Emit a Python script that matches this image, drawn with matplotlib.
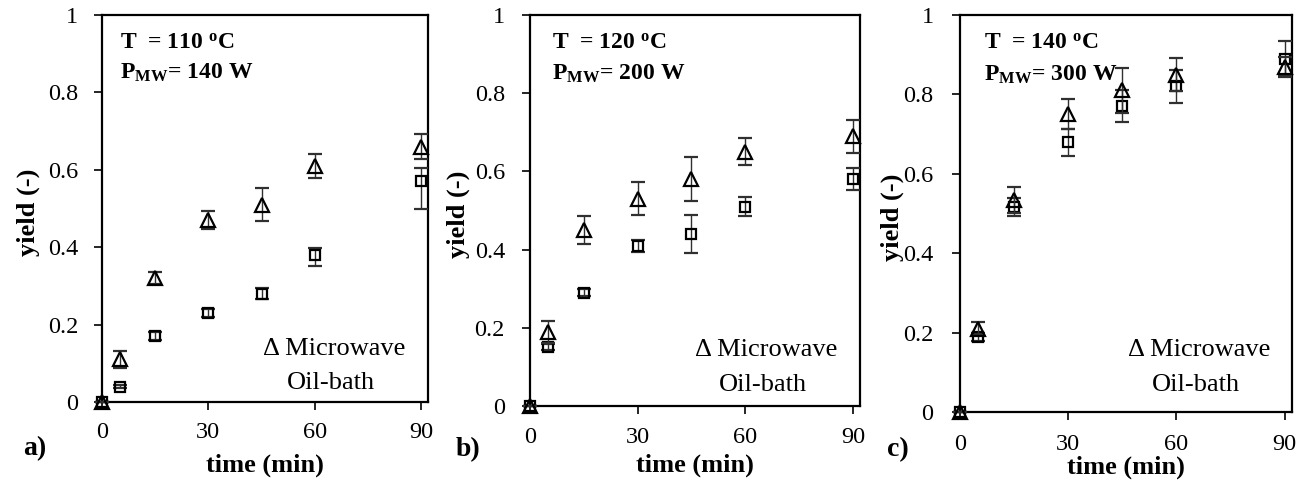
import matplotlib
matplotlib.use('Agg')
import matplotlib.pyplot as plt
from matplotlib.ticker import FixedLocator, FuncFormatter

plt.rcParams['font.family'] = ['Liberation Serif', 'DejaVu Serif']
plt.rcParams['mathtext.fontset'] = 'custom'
plt.rcParams['mathtext.rm'] = 'Liberation Serif'
plt.rcParams['mathtext.bf'] = 'Liberation Serif:bold'
plt.rcParams['mathtext.it'] = 'Liberation Serif:italic'

# ---------------- data ----------------
time = [0, 5, 15, 30, 45, 60, 90]

mw_a = [0, 0.11, 0.32, 0.47, 0.51, 0.61, 0.66]
mw_a_err = [0, 0.022, 0.015, 0.023, 0.043, 0.030, 0.033]
ob_a = [0, 0.04, 0.17, 0.23, 0.28, 0.38, 0.57]
ob_a_lo = [0, 0.005, 0.010, 0.010, 0.015, 0.028, 0.072]
ob_a_hi = [0, 0.005, 0.010, 0.010, 0.015, 0.018, 0.034]

mw_b = [0, 0.19, 0.45, 0.53, 0.58, 0.65, 0.69]
mw_b_err = [0, 0.028, 0.035, 0.042, 0.057, 0.035, 0.042]
ob_b = [0, 0.15, 0.29, 0.41, 0.44, 0.51, 0.58]
ob_b_err = [0, 0.008, 0.008, 0.015, 0.048, 0.025, 0.028]

mw_c = [0, 0.21, 0.534, 0.75, 0.81, 0.85, 0.87]
mw_c_err = [0, 0.017, 0.033, 0.038, 0.056, 0.042, 0.024]
ob_c = [0, 0.19, 0.517, 0.68, 0.77, 0.82, 0.89]
ob_c_err = [0, 0.010, 0.023, 0.034, 0.040, 0.042, 0.045]

temps = ['110', '120', '140']
powers = ['140', '200', '300']
panel_letters = ['a)', 'b)', 'c)']
x_ticks = [0, 30, 60, 90]
y_ticks = [0, 0.2, 0.4, 0.6, 0.8, 1.0]

# ---------------- layout ----------------
fig = plt.figure(figsize=(13.05, 4.84), dpi=100)
positions = [[0.0782, 0.1694, 0.2498, 0.7996],
             [0.4061, 0.1612, 0.2529, 0.8079],
             [0.7356, 0.1488, 0.2544, 0.8202]]
xlabel_y = [-0.163, -0.151, -0.139]
ylabel_x = [-0.227, -0.218, -0.205]
ann_x = [0.055, 0.067, 0.072]
leg1 = [(0.494, 0.137), (0.500, 0.143), (0.506, 0.156)]
leg2 = [(0.567, 0.049), (0.573, 0.054), (0.578, 0.068)]
letter_pos = [(35, 449), (468, 450), (898, 450)]
xpad = [8.5, 9.0, 10.0]
ypad = [11, 12, 13]

mw_series = [(mw_a, mw_a_err), (mw_b, mw_b_err), (mw_c, mw_c_err)]
ob_series = [(ob_a, [ob_a_lo, ob_a_hi]), (ob_b, ob_b_err), (ob_c, ob_c_err)]

W, H = 1305, 484

def fmt(v, _):
    if abs(v) < 1e-9:
        return '0'
    if abs(v - 1) < 1e-9:
        return '1'
    return f'{v:.1f}'

for i in range(3):
    ax = fig.add_axes(positions[i])
    ob, oberr = ob_series[i]
    mw, mwerr = mw_series[i]
    c1 = ax.errorbar(time, ob, yerr=oberr, fmt='s', ms=7.8, mfc='none', mec='black',
                     mew=1.6, ecolor='#303030', elinewidth=1.0, capsize=4.8,
                     capthick=1.0, zorder=3)
    c2 = ax.errorbar(time, mw, yerr=mwerr, fmt='^', ms=9.5, mfc='none', mec='black',
                     mew=1.6, ecolor='#303030', elinewidth=1.0, capsize=4.8,
                     capthick=1.0, zorder=4)
    for c in (c1, c2):
        for art in c.get_children():
            art.set_clip_on(False)

    ax.set_xlim(0, 92)
    ax.set_ylim(0, 1)
    ax.xaxis.set_major_locator(FixedLocator(x_ticks))
    ax.yaxis.set_major_locator(FixedLocator(y_ticks))
    ax.yaxis.set_major_formatter(FuncFormatter(fmt))
    ax.tick_params(direction='out', length=6, width=1.2, labelsize=17.5, color='black')
    ax.tick_params(axis='x', pad=xpad[i])
    ax.tick_params(axis='y', pad=ypad[i])
    for s in ax.spines.values():
        s.set_linewidth(1.6)
        s.set_color('black')

    ax.set_xlabel('time (min)', fontsize=19, fontweight='bold')
    ax.xaxis.set_label_coords(0.5, xlabel_y[i])
    ax.xaxis.label.set_va('center')
    ax.set_ylabel('yield (-)', fontsize=19, fontweight='bold')
    ax.yaxis.set_label_coords(ylabel_x[i], 0.49)
    ax.yaxis.label.set_va('center')

    ax.text(ann_x[i], 0.928, 'T  = ' + temps[i] + r' $^{\mathbf{o}}$C',
            transform=ax.transAxes, fontsize=17, fontweight='bold', va='center')
    ax.text(ann_x[i], 0.850, r'$\mathbf{P_{MW}}$= ' + powers[i] + ' W',
            transform=ax.transAxes, fontsize=17, fontweight='bold', va='center')

    ax.text(leg1[i][0], leg1[i][1], '\u0394 Microwave', transform=ax.transAxes,
            fontsize=19, va='center')
    ax.text(leg2[i][0], leg2[i][1], 'Oil-bath', transform=ax.transAxes,
            fontsize=19, va='center')

    lx, ly = letter_pos[i]
    fig.text(lx / W, 1 - ly / H, panel_letters[i], fontsize=20, fontweight='bold',
             ha='center', va='center')

fig.savefig('out.png', dpi=100)
